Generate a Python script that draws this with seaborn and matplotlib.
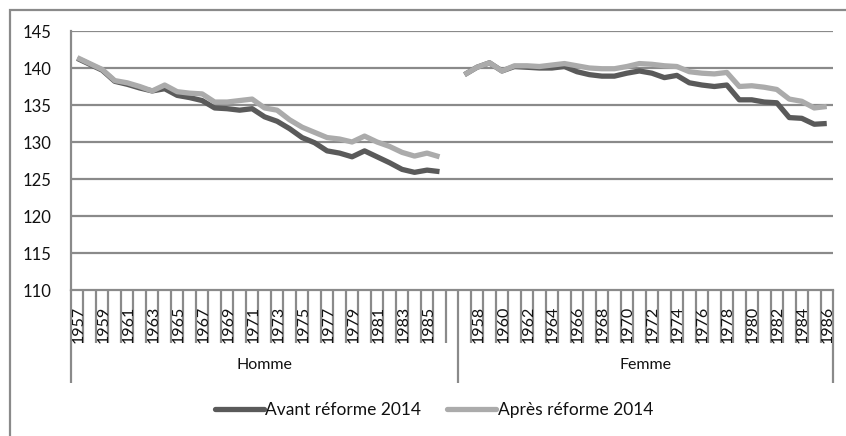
import numpy as np
import pandas as pd
import matplotlib
matplotlib.use("Agg")
import matplotlib.pyplot as plt
import seaborn as sns
from matplotlib.lines import Line2D
from matplotlib.patches import Rectangle

# values
years_homme = list(range(1957, 1987))
years_femme = list(range(1957, 1987))

homme_avant = [141.3, 140.5, 139.7, 138.2, 137.8, 137.3, 136.9, 137.2, 136.3, 136.0,
               135.6, 134.6, 134.5, 134.3, 134.5, 133.4, 132.8, 131.8, 130.6, 129.9,
               128.8, 128.5, 128.0, 128.8, 128.0, 127.2, 126.3, 125.9, 126.2, 126.0]
homme_apres = [141.4, 140.6, 139.8, 138.3, 138.0, 137.5, 136.9, 137.7, 136.8, 136.6,
               136.5, 135.4, 135.4, 135.6, 135.8, 134.6, 134.3, 133.0, 132.0, 131.3,
               130.6, 130.4, 130.0, 130.8, 130.0, 129.4, 128.6, 128.1, 128.5, 128.0]
femme_avant = [139.1, 140.1, 140.7, 139.6, 140.2, 140.1, 140.0, 140.0, 140.2, 139.5,
               139.1, 138.9, 138.9, 139.3, 139.6, 139.3, 138.7, 139.0, 138.0, 137.7,
               137.5, 137.7, 135.7, 135.7, 135.4, 135.3, 133.3, 133.2, 132.4, 132.5]
femme_apres = [139.1, 140.1, 140.7, 139.6, 140.3, 140.3, 140.2, 140.4, 140.6, 140.3,
               140.0, 139.9, 139.9, 140.2, 140.6, 140.5, 140.3, 140.2, 139.5, 139.3,
               139.2, 139.4, 137.5, 137.6, 137.4, 137.1, 135.8, 135.5, 134.6, 134.8]

series_names = ["Avant réforme 2014", "Après réforme 2014"]
groups = ["Homme", "Femme"]
y_ticks = [110, 115, 120, 125, 130, 135, 140, 145]

# category layout: Homme has one extra empty slot at its end (as in the Excel chart)
n_homme_slots = len(years_homme) + 1
n_slots = n_homme_slots + len(years_femme)

rows = []
for i, y in enumerate(years_homme):
    rows.append((i, homme_avant[i], series_names[0], "Homme"))
    rows.append((i, homme_apres[i], series_names[1], "Homme"))
for j, y in enumerate(years_femme):
    rows.append((n_homme_slots + j, femme_avant[j], series_names[0], "Femme"))
    rows.append((n_homme_slots + j, femme_apres[j], series_names[1], "Femme"))
df = pd.DataFrame(rows, columns=["pos", "valeur", "serie", "groupe"])

slot_labels = [str(y) for y in years_homme] + [""] + [str(y) for y in years_femme]

W, H = 846, 436
fig = plt.figure(figsize=(W / 100, H / 100), dpi=100)
sns.set_style("white")
plt.rcParams["font.family"] = ["Lato", "DejaVu Sans"]

left, right, top, bottom = 71, 833, 31, 290
ax = fig.add_axes([left / W, 1 - bottom / H, (right - left) / W, (bottom - top) / H])

grid_c = "#8a8a8a"
txt_c = "#111111"
colors = {series_names[0]: "#5a5a5a", series_names[1]: "#ababab"}

sns.lineplot(data=df, x="pos", y="valeur", hue="serie", units="groupe",
             estimator=None, palette=colors, linewidth=3.8, legend=False, ax=ax,
             solid_capstyle="butt")

ax.set_xlim(-0.5, n_slots - 0.5)
ax.set_ylim(110, 145)
ax.set_yticks(y_ticks)
for v in y_ticks[1:]:
    ax.axhline(v, color=grid_c, lw=1.6, zorder=0)
for s in ax.spines.values():
    s.set_visible(False)
for side in ("left", "bottom"):
    ax.spines[side].set_visible(True)
    ax.spines[side].set_color(grid_c)
    ax.spines[side].set_linewidth(1.6)
ax.tick_params(axis="y", length=5, width=1.6, color=grid_c, labelsize=12, pad=9,
               labelcolor=txt_c)
ax.set_xticks([])
ax.set_xlabel("")
ax.set_ylabel("")

# multi-level category axis drawn below the plot
px = 1.0 / (bottom - top)
trans = ax.get_xaxis_transform()
long_ticks = {0, n_homme_slots, n_slots}
for k in range(n_slots + 1):
    end = 383 if k in long_ticks else 343
    ax.plot([k - 0.5, k - 0.5], [0, -(end - bottom) * px], color=grid_c, lw=1.6,
            transform=trans, clip_on=False, solid_capstyle="butt")

for k, lab in enumerate(slot_labels):
    if k % 2 == 0 and lab:
        ax.text(k + 0.1, -(343 - bottom) * px, lab, rotation=90, ha="center",
                va="bottom", fontsize=11.5, color=txt_c, transform=trans)

ax.text((n_homme_slots - 1) / 2, -(365 - bottom) * px, groups[0], ha="center",
        va="center", fontsize=11.5, color=txt_c, transform=trans)
ax.text(n_homme_slots + (len(years_femme) - 1) / 2, -(365 - bottom) * px, groups[1],
        ha="center", va="center", fontsize=11.5, color=txt_c, transform=trans)

handles = [Line2D([0], [0], color=colors[n], lw=3.8) for n in series_names]
fig.legend(handles, series_names, loc="center", bbox_to_anchor=(434 / W, 1 - 410 / H),
           ncol=2, frameon=False, fontsize=12.5, handlelength=2.8, handletextpad=0.1,
           columnspacing=1.5, labelcolor=txt_c)

# outer chart border
fig.patches.append(Rectangle((10 / W, -0.05), 1.0, 1 - 10 / H + 0.05,
                             transform=fig.transFigure, fill=False,
                             edgecolor=grid_c, lw=1.6))

fig.savefig("out.png", dpi=100)
